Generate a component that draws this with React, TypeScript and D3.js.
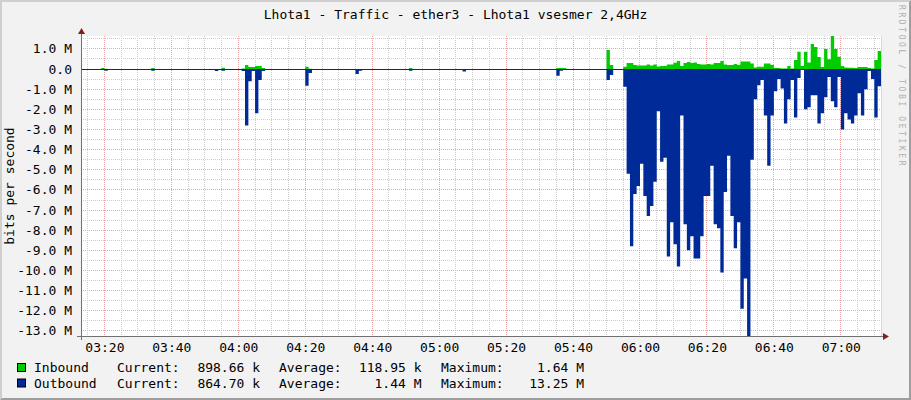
import React from 'react';
import * as d3 from 'd3';

const W = 911;
const H = 400;

const title = 'Lhota1 - Traffic - ether3 - Lhota1 vsesmer 2,4GHz';
const yAxisTitle = 'bits per second';
const watermark = 'RRDTOOL / TOBI OETIKER';

// one sample per minute, first sample starts at 03:13, last ends at 07:12
const startLabel = '03:13';
const endLabel = '07:12';

const xTickLabels = ['03:20', '03:40', '04:00', '04:20', '04:40', '05:00', '05:20', '05:40', '06:00', '06:20', '06:40', '07:00'];
const yTickValues = [1, 0, -1, -2, -3, -4, -5, -6, -7, -8, -9, -10, -11, -12, -13];
const yTickLabels = ['1.0 M', '0.0', '-1.0 M', '-2.0 M', '-3.0 M', '-4.0 M', '-5.0 M', '-6.0 M', '-7.0 M', '-8.0 M', '-9.0 M', '-10.0 M', '-11.0 M', '-12.0 M', '-13.0 M'];
const yDomain = [-13.25, 1.64];

// values in Mbit/s, one per minute
const inbound = [
  0, 0, 0, 0, 0, 0, 0.05, 0.01, 0, 0, 0, 0, 0, 0, 0, 0, 0, 0, 0, 0,
  0, 0.05, 0, 0, 0, 0, 0, 0, 0, 0, 0, 0, 0, 0, 0, 0, 0, 0, 0, 0,
  0, 0, 0.07, 0, 0, 0, 0, 0, 0.03, 0.2, 0.1, 0.1, 0.15, 0.15, 0.05, 0, 0, 0, 0, 0,
  0, 0, 0, 0, 0, 0, 0, 0.12, 0.02, 0, 0, 0, 0, 0, 0, 0, 0, 0, 0, 0,
  0, 0, 0, 0, 0, 0, 0, 0, 0, 0, 0, 0, 0, 0, 0, 0, 0, 0, 0.05, 0,
  0, 0, 0, 0, 0, 0, 0, 0, 0, 0, 0, 0, 0, 0, 0, 0, 0, 0, 0, 0,
  0, 0, 0, 0, 0, 0, 0, 0, 0, 0, 0, 0, 0, 0, 0, 0, 0, 0, 0, 0,
  0, 0, 0.05, 0.05, 0.05, 0, 0, 0, 0, 0, 0, 0, 0, 0, 0, 0, 0, 0.95, 0.2, 0,
  0, 0, 0.12, 0.3, 0.3, 0.2, 0.17, 0.17, 0.17, 0.22, 0.18, 0.22, 0.13, 0.15, 0.15, 0.23, 0.22, 0.31, 0.4, 0.15,
  0.3, 0.35, 0.3, 0.33, 0.25, 0.22, 0.22, 0.25, 0.22, 0.3, 0.3, 0.4, 0.23, 0.2, 0.2, 0.25, 0.2, 0.38, 0.38, 0.38,
  0.28, 0.08, 0.12, 0.12, 0.28, 0.28, 0.2, 0.05, 0.05, 0.03, 0.03, 0.15, 0.03, 0.45, 0.86, 0.15, 0.86, 0.33, 1.24, 1.1,
  0.6, 0.1, 1.0, 0.48, 1.64, 1.0, 0.61, 0.15, 0.08, 0.06, 0.06, 0.05, 0.1, 0.1, 0.1, 0.05, 0.03, 0.45, 0.9,
];

const outbound = [
  0, 0, 0, 0, 0, 0, 0, 0.08, 0, 0, 0, 0, 0, 0, 0, 0, 0, 0, 0, 0,
  0, 0.08, 0, 0, 0, 0, 0, 0, 0, 0, 0, 0, 0, 0, 0, 0, 0, 0, 0, 0,
  0.1, 0, 0.08, 0, 0, 0, 0, 0, 0.1, 2.8, 0.6, 0.1, 2.2, 0.55, 0.1, 0, 0, 0, 0, 0,
  0, 0, 0, 0, 0, 0, 0, 0.83, 0.2, 0, 0, 0, 0, 0, 0, 0, 0, 0, 0, 0,
  0, 0, 0.25, 0.08, 0, 0, 0, 0, 0, 0, 0, 0, 0, 0, 0, 0, 0, 0, 0.08, 0,
  0, 0, 0, 0, 0, 0, 0, 0, 0, 0, 0, 0, 0, 0, 0.12, 0, 0, 0, 0, 0,
  0, 0, 0, 0, 0, 0, 0, 0, 0, 0, 0, 0, 0, 0, 0, 0, 0, 0, 0, 0,
  0, 0, 0.33, 0.08, 0.05, 0, 0, 0, 0, 0, 0, 0, 0, 0, 0, 0, 0, 0.55, 0.3, 0,
  0, 0, 0.88, 5.2, 8.8, 6.2, 5.8, 4.7, 6.3, 7.3, 6.8, 5.6, 2.1, 4.6, 4.4, 9.3, 7.6, 8.7, 9.8, 2.3,
  7.7, 9.0, 8.3, 9.4, 9.4, 8.3, 6.3, 6.3, 4.8, 7.7, 7.9, 10.1, 6.1, 4.3, 7.3, 8.9, 7.6, 11.9, 10.4, 13.25,
  4.5, 1.5, 0.8, 0.55, 2.3, 4.8, 2.3, 1.1, 0.5, 0.96, 2.7, 1.5, 0.55, 2.4, 0.45, 0.02, 2.0, 1.9, 1.3, 1.3,
  2.7, 2.2, 1.4, 0.4, 1.6, 1.9, 0.4, 3.0, 2.2, 2.5, 2.7, 2.3, 1.2, 2.3, 1.0, 0.1, 0.5, 2.4, 0.86,
];

const seriesNames = ['Inbound', 'Outbound'];
const seriesColors = ['#00CC00', '#002A97'];
const currentValues = ['898.66 k', '864.70 k'];
const averageValues = ['118.95 k', '1.44 M'];
const maximumValues = ['1.64 M', '13.25 M'];

const FONT = '"DejaVu Sans Mono", monospace';

function toMin(s: string) {
  const [h, m] = s.split(':').map(Number);
  return h * 60 + m;
}

export default function App() {
  const X0 = 81, X1 = 881, Y0 = 336, Y1 = 36;
  const t0 = toMin(startLabel);
  const t1 = toMin(endLabel);
  const x = d3.scaleLinear().domain([0, t1 - t0]).range([X0, X1]);
  const y = d3.scaleLinear().domain(yDomain).range([Y0, Y1]);

  const mk = (arr: number[], sign: number) => {
    const pts = arr.map((v, i) => ({ i, v: v * sign }));
    pts.push({ i: arr.length, v: arr[arr.length - 1] * sign });
    return pts;
  };
  const area = d3
    .area<{ i: number; v: number }>()
    .curve(d3.curveStepAfter)
    .x((d) => x(d.i))
    .y0(y(0))
    .y1((d) => y(d.v));

  const crisp = (v: number) => Math.floor(v) + 0.5;

  // grid
  const minorX = d3.range(0, t1 - t0 + 1).filter((m) => (m + t0) % 5 === 0 && (m + t0) % 20 !== 0);
  const majorX = xTickLabels.map((l) => toMin(l) - t0);
  const minorY = d3.range(yDomain[0], yDomain[1], 0.5).map((v) => Math.ceil(v * 2) / 2).filter((v) => Math.abs(v % 1) === 0.5 && v < yDomain[1]);

  const gridMinor = '#cdcdcd';
  const gridMajor = '#eca6a6';

  return (
    <svg width={W} height={H} style={{ position: 'absolute', left: 0, top: 0 }} xmlns="http://www.w3.org/2000/svg">
      <rect x={0} y={0} width={W} height={H} fill="#f2f2f2" />
      {/* bevel */}
      <polygon points={`0,${H} 2,${H - 2} 2,2 ${W - 2},2 ${W},0 0,0`} fill="#cfcfcf" />
      <polygon points={`2,${H - 2} ${W - 2},${H - 2} ${W - 2},2 ${W},0 ${W},${H} 0,${H}`} fill="#9e9e9e" />
      <rect x={X0} y={Y1} width={X1 - X0} height={Y0 - Y1} fill="#ffffff" />

      {/* grid */}
      <g shapeRendering="crispEdges">
        {minorY.map((v) => (
          <line key={'my' + v} x1={X0} x2={X1} y1={crisp(y(v))} y2={crisp(y(v))} stroke={gridMinor} strokeDasharray="1,1" />
        ))}
        {minorX.map((m) => (
          <line key={'mx' + m} x1={crisp(x(m))} x2={crisp(x(m))} y1={Y1} y2={Y0} stroke={gridMinor} strokeDasharray="1,1" />
        ))}
        {yTickValues.map((v) => (
          <line key={'Y' + v} x1={X0} x2={X1} y1={crisp(y(v))} y2={crisp(y(v))} stroke={gridMajor} strokeDasharray="1,1" />
        ))}
        {majorX.map((m) => (
          <line key={'X' + m} x1={crisp(x(m))} x2={crisp(x(m))} y1={Y1} y2={Y0} stroke={gridMajor} strokeDasharray="1,1" />
        ))}
      </g>

      {/* data */}
      <path d={area(mk(inbound, 1)) || ''} fill={seriesColors[0]} />
      <path d={area(mk(outbound, -1)) || ''} fill={seriesColors[1]} />
      <line x1={X0} x2={X1} y1={crisp(y(0))} y2={crisp(y(0))} stroke="#142470" strokeWidth={1} shapeRendering="crispEdges" />

      {/* axes */}
      <line x1={X1 + 0.5} x2={X1 + 0.5} y1={Y1} y2={Y0} stroke="#d8d8d8" shapeRendering="crispEdges" />
      <line x1={X0 - 4} x2={X1 + 4} y1={Y0 + 0.5} y2={Y0 + 0.5} stroke="#707070" shapeRendering="crispEdges" />
      <line x1={X0 + 0.5} x2={X0 + 0.5} y1={Y0 + 4} y2={Y1 - 4} stroke="#707070" shapeRendering="crispEdges" />
      <polygon points={`${X1 + 2},${Y0 - 3} ${X1 + 2},${Y0 + 4} ${X1 + 8},${Y0 + 0.5}`} fill="#801f1f" />
      <polygon points={`${X0 - 3},${Y1 - 2} ${X0 + 4},${Y1 - 2} ${X0 + 0.5},${Y1 - 8}`} fill="#801f1f" />

      {/* y labels */}
      {yTickValues.map((v, i) => (
        <text key={'yl' + v} x={72} y={y(v) + 4.5} textAnchor="end" fontFamily={FONT} fontSize={13} fill="#000">
          {yTickLabels[i]}
        </text>
      ))}
      {/* x labels */}
      {majorX.map((m, i) => (
        <text key={'xl' + m} x={x(m) + 0.5} y={352} textAnchor="middle" fontFamily={FONT} fontSize={13} fill="#000">
          {xTickLabels[i]}
        </text>
      ))}

      {/* title */}
      <text x={455.5} y={19} textAnchor="middle" fontFamily={FONT} fontSize={13} fill="#000">
        {title}
      </text>
      <text transform={`translate(14, ${(Y0 + Y1) / 2}) rotate(-90)`} textAnchor="middle" fontFamily={FONT} fontSize={13} fill="#000">
        {yAxisTitle}
      </text>
      <text transform={`translate(899, 5) rotate(90)`} fontFamily={FONT} fontSize={8} letterSpacing={2.6} fill="#b0b0b0">
        {watermark}
      </text>

      {/* legend */}
      {seriesNames.map((name, i) => {
        const by = 372 + i * 15.5;
        return (
          <g key={name} fontFamily={FONT} fontSize={13} fill="#000">
            <rect x={17.5} y={by - 8.5} width={8} height={8} fill={seriesColors[i]} stroke="#000" strokeWidth={1} />
            <text x={34} y={by}>{name}</text>
            <text x={117} y={by}>Current:</text>
            <text x={260} y={by} textAnchor="end">{currentValues[i]}</text>
            <text x={279} y={by}>Average:</text>
            <text x={421.5} y={by} textAnchor="end">{averageValues[i]}</text>
            <text x={441} y={by}>Maximum:</text>
            <text x={584} y={by} textAnchor="end">{maximumValues[i]}</text>
          </g>
        );
      })}
    </svg>
  );
}
